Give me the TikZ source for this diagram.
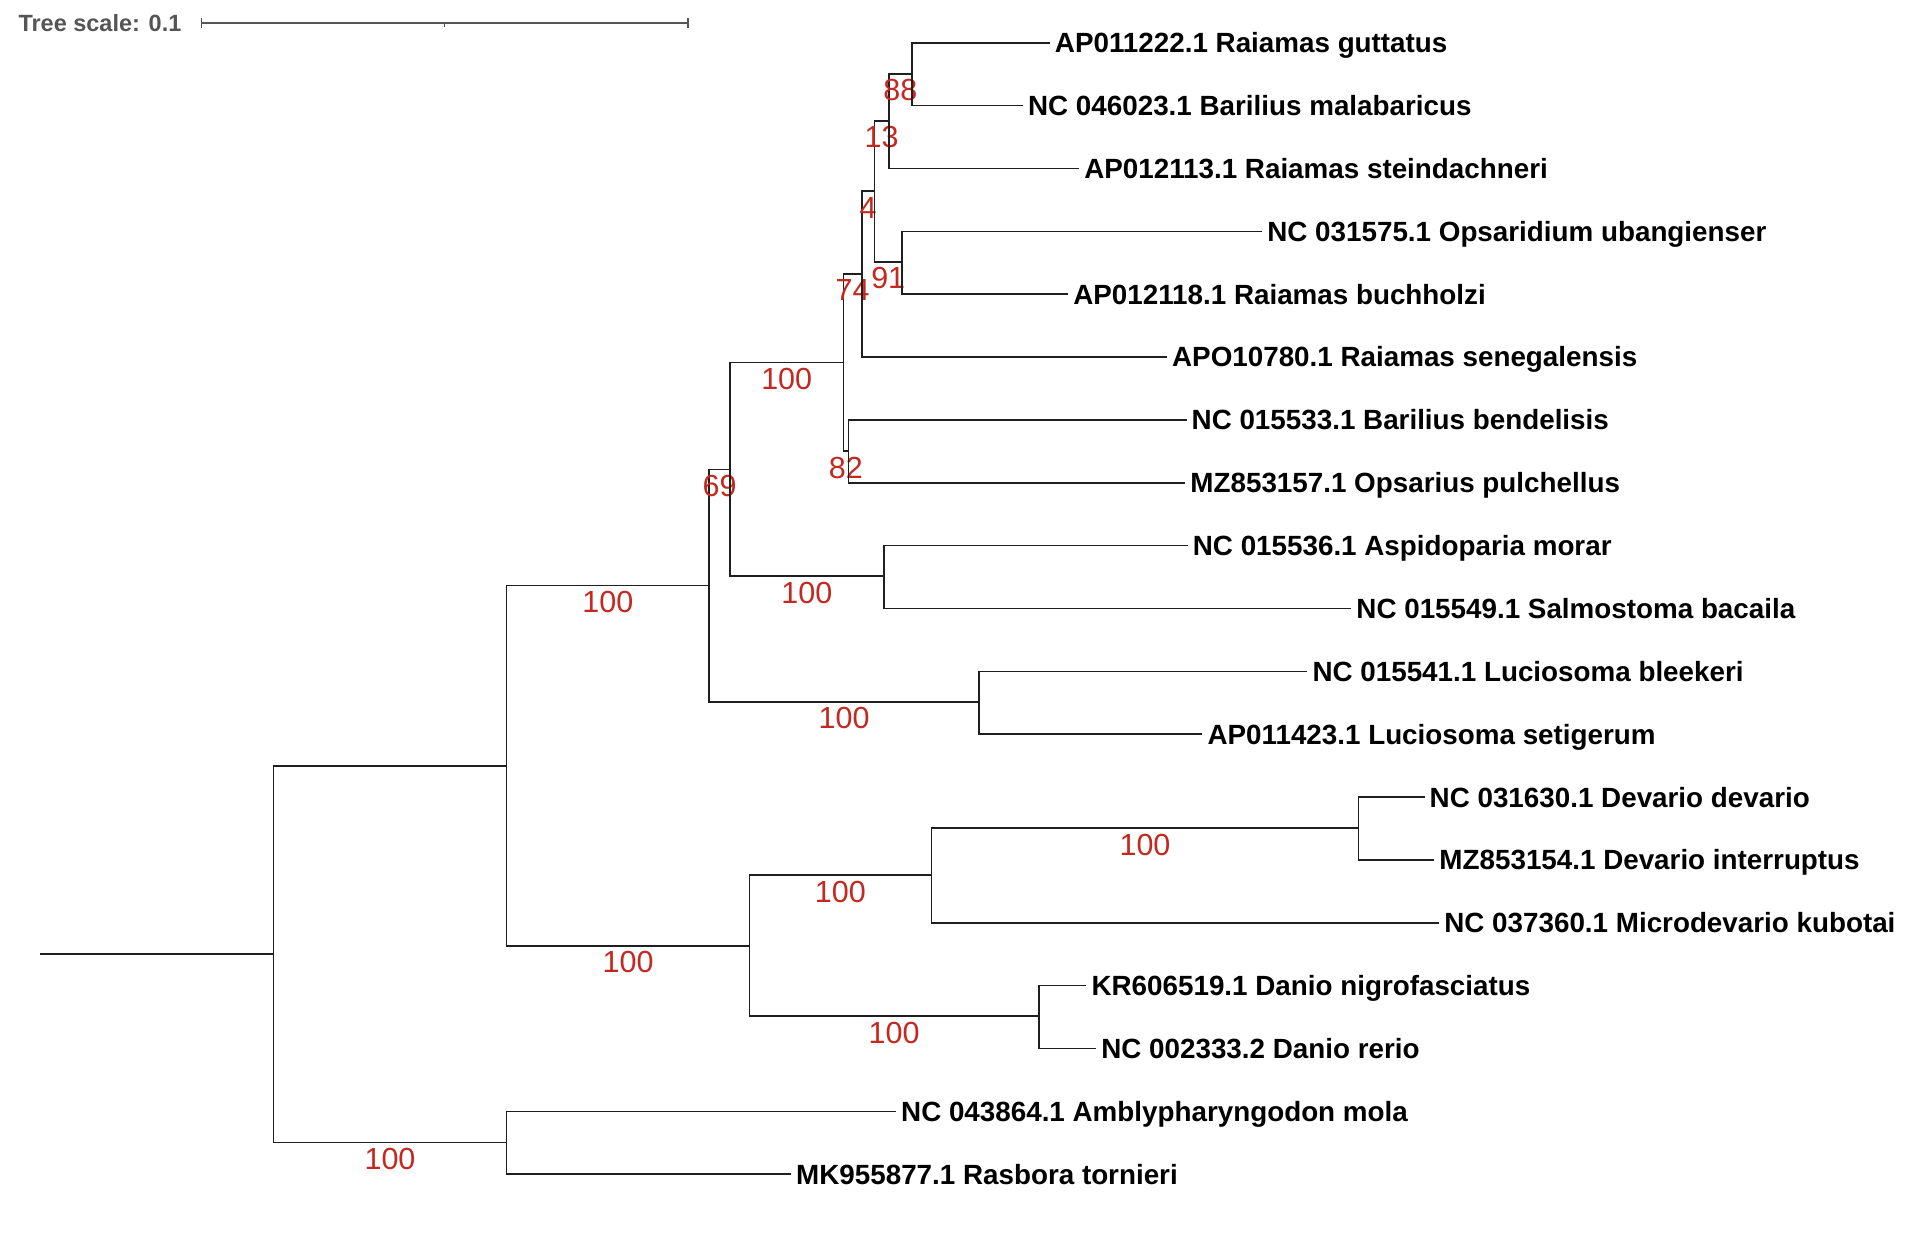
\documentclass[tikz,border=0pt]{standalone}
\usepackage{fontspec}
\setmainfont{Liberation Sans}
\usetikzlibrary{calc}
\definecolor{bootred}{RGB}{196,40,32}
\definecolor{scalegray}{RGB}{85,85,85}

\tikzset{
  branch/.style={line width=1.6pt, black!88},
  leaf/.style={anchor=west, inner sep=5pt, text height=19.9pt, text depth=0pt, font=\fontsize{27.8}{30}\selectfont\bfseries},
  boot/.style={pos=0.75, below=5pt, inner sep=0pt, text=bootred, font=\fontsize{30.5}{32}\selectfont}
}

\begin{document}
\begin{tikzpicture}[x=1.2207pt, y=-1.2207pt]
\useasboundingbox (0,0) rectangle (1568,1013);

\node[anchor=west, inner sep=0pt, text=scalegray, font=\fontsize{23.5}{25}\selectfont\bfseries] (scalelbl) at (15,18.6) {Tree scale: 0.1};
\coordinate (bar0) at (165,18.6);
\coordinate (bar1) at (563.6,18.6);
\draw[scalegray, line width=1.8pt] (bar0) -- (bar1);
\draw[scalegray, line width=1.4pt] ([yshift=5pt]bar0) -- ([yshift=-5pt]bar0) ([yshift=5pt]bar1) -- ([yshift=-5pt]bar1) ($(bar0)!0.5!(bar1)$) -- ++(0,3.3);

\coordinate (root) at (33,781.7);
\coordinate (R) at (224,781.7);
\coordinate (U) at (415,627.3);
\coordinate (Z) at (415,936);
\coordinate (A) at (581,479.7);
\coordinate (V) at (614,774.9);
\coordinate (B) at (598,384.5);
\coordinate (L) at (802,575);
\coordinate (C) at (691,297);
\coordinate (K) at (724,472);
\coordinate (D) at (706,224.4);
\coordinate (P) at (695,369.5);
\coordinate (E) at (716.3,156.7);
\coordinate (F) at (728.3,99);
\coordinate (H) at (739,214.5);
\coordinate (G) at (747,60.5);
\coordinate (W) at (763,717);
\coordinate (Y) at (851,832.5);
\coordinate (X) at (1113,678.5);

\node[leaf] (guttatus) at (860,35) {AP011222.1 Raiamas guttatus};
\node[leaf] (malabaricus) at (838,86.5) {NC 046023.1 Barilius malabaricus};
\node[leaf] (steindachneri) at (884,138) {AP012113.1 Raiamas steindachneri};
\node[leaf] (ubangienser) at (1034,189.5) {NC 031575.1 Opsaridium ubangienser};
\node[leaf] (buchholzi) at (875,241) {AP012118.1 Raiamas buchholzi};
\node[leaf] (senegalensis) at (956,292.5) {APO10780.1 Raiamas senegalensis};
\node[leaf] (bendelisis) at (972,344) {NC 015533.1 Barilius bendelisis};
\node[leaf] (pulchellus) at (971,395.5) {MZ853157.1 Opsarius pulchellus};
\node[leaf] (morar) at (973,447) {NC 015536.1 Aspidoparia morar};
\node[leaf] (bacaila) at (1107,498.5) {NC 015549.1 Salmostoma bacaila};
\node[leaf] (bleekeri) at (1071,550) {NC 015541.1 Luciosoma bleekeri};
\node[leaf] (setigerum) at (985,601.5) {AP011423.1 Luciosoma setigerum};
\node[leaf] (devario) at (1167,653) {NC 031630.1 Devario devario};
\node[leaf] (interruptus) at (1175,704.5) {MZ853154.1 Devario interruptus};
\node[leaf] (kubotai) at (1179,756) {NC 037360.1 Microdevario kubotai};
\node[leaf] (nigrofasciatus) at (890,807.5) {KR606519.1 Danio nigrofasciatus};
\node[leaf] (rerio) at (898,859) {NC 002333.2 Danio rerio};
\node[leaf] (mola) at (734,910.5) {NC 043864.1 Amblypharyngodon mola};
\node[leaf] (tornieri) at (648,962) {MK955877.1 Rasbora tornieri};

\draw[branch] (root) -- (R);
\draw[branch] (R) |- (U);
\draw[branch] (R) |- node[boot]{100} (Z);
\draw[branch] (U) |- node[boot]{100} (A);
\draw[branch] (U) |- node[boot]{100} (V);
\draw[branch] (A) |- node[boot]{69} (B);
\draw[branch] (A) |- node[boot]{100} (L);
\draw[branch] (B) |- node[boot]{100} (C);
\draw[branch] (B) |- node[boot]{100} (K);
\draw[branch] (C) |- node[boot]{74} (D);
\draw[branch] (C) |- node[boot]{82} (P);
\draw[branch] (D) |- node[boot]{4} (E);
\draw[branch] (E) |- node[boot]{13} (F);
\draw[branch] (E) |- node[boot]{91} (H);
\draw[branch] (F) |- node[boot]{88} (G);
\draw[branch] (V) |- node[boot]{100} (W);
\draw[branch] (V) |- node[boot]{100} (Y);
\draw[branch] (W) |- node[boot]{100} (X);

\draw[branch] (G) |- (guttatus.west);
\draw[branch] (G) |- (malabaricus.west);
\draw[branch] (F) |- (steindachneri.west);
\draw[branch] (H) |- (ubangienser.west);
\draw[branch] (H) |- (buchholzi.west);
\draw[branch] (D) |- (senegalensis.west);
\draw[branch] (P) |- (bendelisis.west);
\draw[branch] (P) |- (pulchellus.west);
\draw[branch] (K) |- (morar.west);
\draw[branch] (K) |- (bacaila.west);
\draw[branch] (L) |- (bleekeri.west);
\draw[branch] (L) |- (setigerum.west);
\draw[branch] (X) |- (devario.west);
\draw[branch] (X) |- (interruptus.west);
\draw[branch] (W) |- (kubotai.west);
\draw[branch] (Y) |- (nigrofasciatus.west);
\draw[branch] (Y) |- (rerio.west);
\draw[branch] (Z) |- (mola.west);
\draw[branch] (Z) |- (tornieri.west);

\end{tikzpicture}
\end{document}
